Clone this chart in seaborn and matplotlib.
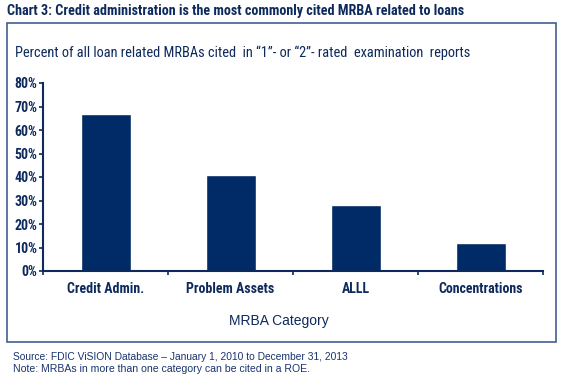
import numpy as np
import pandas as pd
import matplotlib.pyplot as plt
import seaborn as sns
from matplotlib.ticker import FuncFormatter

# values (percent)
categories = ['Credit Admin.', 'Problem Assets', 'ALLL', 'Concentrations']
pct_cited = [67, 41, 28, 12]
y_ticks = [0, 10, 20, 30, 40, 50, 60, 70, 80]

navy = '#002B66'
text_navy = '#0E2A5C'
box_col = '#41608F'
narrow = ['Roboto Condensed', 'Liberation Sans Narrow', 'Liberation Sans', 'DejaVu Sans']

sns.set_theme(style='white')
plt.rcParams['font.family'] = narrow

df = pd.DataFrame({'Category': categories, 'Percent': pct_cited})

fig = plt.figure(figsize=(5.63, 3.79), dpi=100)
ax = fig.add_axes([43/563, 1 - 271/379, 500/563, 188/379])

sns.barplot(x='Category', y='Percent', data=df, color=navy, width=0.4,
            saturation=1, ax=ax)

ax.set_ylim(0, 80)
ax.set_xlim(-0.5, 3.5)
ax.set_yticks(y_ticks)
ax.yaxis.set_major_formatter(FuncFormatter(lambda v, p: f'{v:.0f}%'))
ax.set_xticks(np.arange(-0.5, 4, 1))
ax.set_xticklabels([])
ax.set_xticks(range(len(categories)), minor=True)
ax.set_xticklabels(categories, minor=True)

ax.tick_params(axis='y', which='major', direction='out', length=3, width=1.2,
               color=text_navy, labelsize=10, labelcolor=text_navy, pad=1, left=True)
ax.tick_params(axis='x', which='major', direction='out', length=3, width=1.2,
               color=text_navy, bottom=True)
ax.tick_params(axis='x', which='minor', length=0, labelsize=10,
               labelcolor=text_navy, pad=8)
for lab in ax.get_yticklabels() + ax.get_xticklabels(minor=True):
    lab.set_fontweight('bold')

sns.despine(ax=ax)
for s in ['left', 'bottom']:
    ax.spines[s].set_color(text_navy)
    ax.spines[s].set_linewidth(1.5)

ax.set_xlabel('')
ax.set_ylabel('')

xl = fig.text(279/563, 1 - 321/379, 'MRBA Category', ha='center', va='center',
              fontsize=11.5, color=text_navy, family=['Liberation Sans', 'DejaVu Sans'])

# outer box
fig.add_artist(plt.Rectangle((6.5/563, 1 - 342/379), 549.5/563, 319.5/379,
                             transform=fig.transFigure, fill=False,
                             ec=box_col, lw=1.2))

title = fig.text(7/563, 1 - 11/379,
                 'Chart 3: Credit administration is the most commonly cited MRBA related to loans',
                 ha='left', va='center', fontsize=11, fontweight='bold', color=text_navy)
sub = fig.text(15/563, 1 - 53/379,
               'Percent of all loan related MRBAs cited  in \u201c1\u201d- or \u201c2\u201d- rated  examination  reports',
               ha='left', va='center', fontsize=11.5, color=text_navy)
src = fig.text(13/563, 1 - 357/379,
               'Source: FDIC ViSION Database \u2013 January 1, 2010 to December 31, 2013',
               ha='left', va='center', fontsize=7.5, color='#1A3470',
               family=['Liberation Sans', 'DejaVu Sans'])
note = fig.text(13/563, 1 - 369/379,
                'Note: MRBAs in more than one category can be cited in a ROE.',
                ha='left', va='center', fontsize=7.5, color='#1A3470',
                family=['Liberation Sans', 'DejaVu Sans'])

# shrink / grow texts so their widths match the reference
fig.canvas.draw()
r = fig.canvas.get_renderer()
for t, w in [(title, 456), (sub, 456), (src, 335), (note, 297), (xl, 100)]:
    cur = t.get_window_extent(r).width
    t.set_fontsize(t.get_fontsize() * w / cur)

fig.savefig('out.png', dpi=100)
